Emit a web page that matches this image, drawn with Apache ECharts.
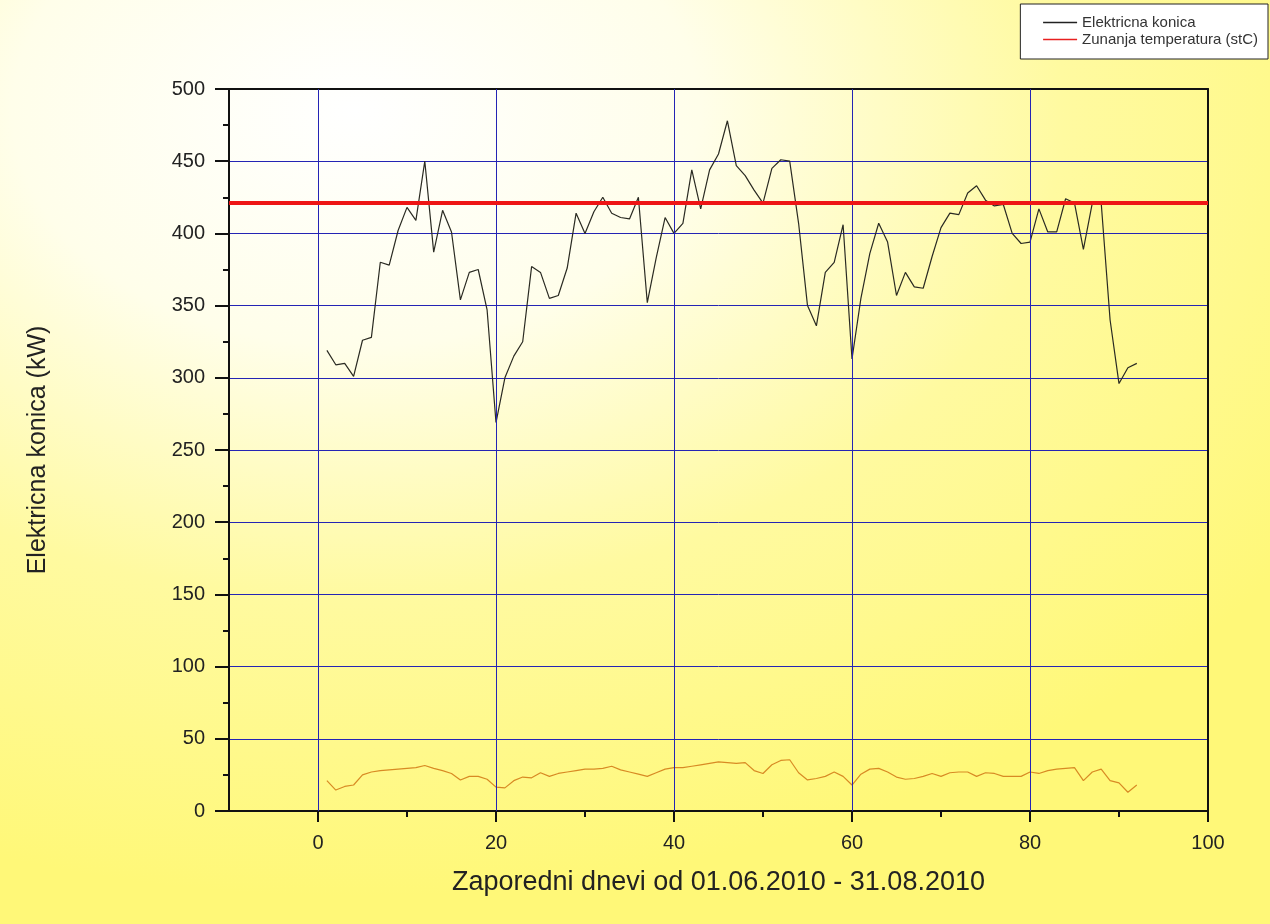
<!DOCTYPE html>
<html>
<head>
<meta charset="utf-8">
<script src="https://cdn.jsdelivr.net/npm/echarts@6/dist/echarts.min.js"></script>
<style>
  html, body { margin: 0; padding: 0; }
  body {
    width: 1270px; height: 924px;
    background: radial-gradient(ellipse 90% 85% at 28% 12%, #ffffff 0%, #fffeea 30%, #fffaa0 62%, #fff878 100%);
  }
  #chart { width: 1270px; height: 924px; }
</style>
</head>
<body>
<div id="chart"></div>
<script>
// daily peak electric power (kW), days 1..92 (01.06.2010 - 31.08.2010)
const power = [
  319, 309, 310, 301, 326, 328, 380, 378, 402, 418,
  409, 450, 387, 416, 401, 354, 373, 375, 347, 269,
  300, 315, 325, 377, 373, 355, 357, 376, 414, 400,
  415, 425, 414, 411, 410, 425, 352, 383, 411, 400,
  407, 444, 417, 444, 455, 478, 447, 440, 430, 421,
  445, 451, 450, 407, 350, 336, 373, 380, 406, 313,
  355, 386, 407, 394, 357, 373, 363, 362, 384, 404,
  414, 413, 428, 433, 423, 419, 420, 400, 393, 394,
  417, 401, 401, 424, 421, 389, 421, 421, 340, 296,
  307, 310
];
// outside temperature (stC)
const temperature = [
  21, 14.5, 17, 18, 25, 27, 28, 28.5, 29, 29.5,
  30, 31.5, 29.5, 28, 26, 21.5, 24, 24, 22, 16.5,
  16, 21, 23.5, 23, 26.5, 24, 26, 27, 28, 29,
  29, 29.5, 31, 28.5, 27, 25.5, 24, 26.5, 29, 30,
  30, 31, 32, 33, 34, 33.5, 33, 33.5, 28, 26,
  32, 35, 35.5, 26.5, 21.5, 22.5, 24, 27, 24, 18,
  25.5, 29, 29.5, 27, 23.5, 22, 22.5, 24, 26, 24,
  26.5, 27, 27, 24, 26.5, 26, 24, 24, 24, 27,
  26, 28, 29, 29.5, 30, 21, 27, 29, 21, 19.5,
  13, 18
];
const days = power.map((_, i) => i + 1);
const limitValue = 421;
const xMajorTicks = [0, 20, 40, 60, 80, 100];
const xMinorTicks = [10, 30, 50, 70, 90];
const xGridLines = [0, 20, 40, 60, 80];

const chart = echarts.init(document.getElementById('chart'));

const gridBox = { left: 229, right: 62, top: 89, bottom: 113 };
const blue = '#2424b4';
const font = 'Liberation Sans, Arial, sans-serif';
const frame = { show: true, onZero: false, lineStyle: { color: '#111', width: 2 } };

const option = {
  backgroundColor: 'transparent',
  animation: false,
  grid: [
    Object.assign({ containLabel: false }, gridBox),
    Object.assign({ containLabel: false }, gridBox)
  ],
  legend: {
    orient: 'vertical',
    right: 2,
    top: 4,
    backgroundColor: '#ffffff',
    borderColor: '#222',
    borderWidth: 1,
    padding: [11, 10, 12, 22],
    itemGap: 2,
    itemWidth: 34,
    itemHeight: 10,
    textStyle: { fontSize: 15, color: '#333', fontFamily: font },
    data: [
      { name: 'Elektricna konica', itemStyle: { color: '#222', opacity: 0 }, lineStyle: { color: '#222', width: 1.5, opacity: 1 } },
      { name: 'Zunanja temperatura (stC)', itemStyle: { color: '#e82020', opacity: 0 }, lineStyle: { color: '#e82020', width: 1.5, opacity: 1 } }
    ]
  },
  xAxis: [
    {
      type: 'value', gridIndex: 0, position: 'bottom',
      min: -10, max: 100,
      name: 'Zaporedni dnevi od 01.06.2010 - 31.08.2010',
      nameLocation: 'middle', nameGap: 58,
      nameTextStyle: { fontSize: 27, color: '#222', fontFamily: font },
      axisLine: frame,
      axisTick: { show: true, customValues: xMajorTicks, length: 11, lineStyle: { color: '#111', width: 2 } },
      axisLabel: { customValues: xMajorTicks, margin: 22, fontSize: 20, color: '#222', fontFamily: font },
      splitLine: { show: false }
    },
    {
      type: 'value', gridIndex: 0, position: 'top',
      min: -10, max: 100,
      axisLine: frame,
      axisTick: { show: false }, axisLabel: { show: false }, splitLine: { show: false }
    },
    {
      type: 'value', gridIndex: 1, position: 'bottom',
      min: -10, max: 100,
      axisLine: { show: false, onZero: false },
      axisTick: { show: true, customValues: xMinorTicks, length: 6, lineStyle: { color: '#111', width: 2 } },
      axisLabel: { show: false }, splitLine: { show: false }
    }
  ],
  yAxis: [
    {
      type: 'value', gridIndex: 0, position: 'left',
      min: 0, max: 500, interval: 50,
      name: 'Elektricna konica (kW)',
      nameLocation: 'middle', nameGap: 178,
      nameTextStyle: { fontSize: 25, color: '#222', fontFamily: font },
      axisLine: frame,
      axisTick: { show: true, length: 14, lineStyle: { color: '#111', width: 2 } },
      minorTick: { show: true, splitNumber: 2, length: 6, lineStyle: { color: '#111', width: 2 } },
      axisLabel: { margin: 24, fontSize: 20, color: '#222', fontFamily: font },
      splitLine: { show: true, lineStyle: { color: blue, width: 1 } }
    },
    {
      type: 'value', gridIndex: 0, position: 'right',
      min: 0, max: 500,
      axisLine: frame,
      axisTick: { show: false }, axisLabel: { show: false }, splitLine: { show: false }
    },
    {
      type: 'value', gridIndex: 1, min: 0, max: 500,
      axisLine: { show: false, onZero: false }, axisTick: { show: false }, axisLabel: { show: false }, splitLine: { show: false }
    }
  ],
  series: [
    {
      name: 'gridlines',
      type: 'line',
      xAxisIndex: 0, yAxisIndex: 0,
      data: [],
      z: 1,
      markLine: {
        silent: true,
        symbol: 'none',
        label: { show: false },
        lineStyle: { color: blue, width: 1, type: 'solid' },
        data: xGridLines.map(v => ({ xAxis: v }))
      }
    },
    {
      name: 'Elektricna konica',
      type: 'line',
      xAxisIndex: 0, yAxisIndex: 0,
      data: days.map((d, i) => [d, power[i]]),
      symbol: 'none',
      z: 3,
      lineStyle: { color: '#2a2a22', width: 1.2 },
      itemStyle: { color: '#222' }
    },
    {
      name: 'Zunanja temperatura (stC)',
      type: 'line',
      xAxisIndex: 0, yAxisIndex: 0,
      data: days.map((d, i) => [d, temperature[i]]),
      symbol: 'none',
      z: 3,
      lineStyle: { color: '#d88a24', width: 1.2 },
      itemStyle: { color: '#e02020' }
    },
    {
      name: 'limit',
      type: 'line',
      xAxisIndex: 0, yAxisIndex: 0,
      data: [],
      z: 4,
      markLine: {
        silent: true,
        symbol: 'none',
        label: { show: false },
        lineStyle: { color: '#ee1515', width: 4, type: 'solid' },
        data: [{ yAxis: limitValue }]
      }
    }
  ]
};

chart.setOption(option);
</script>
</body>
</html>
